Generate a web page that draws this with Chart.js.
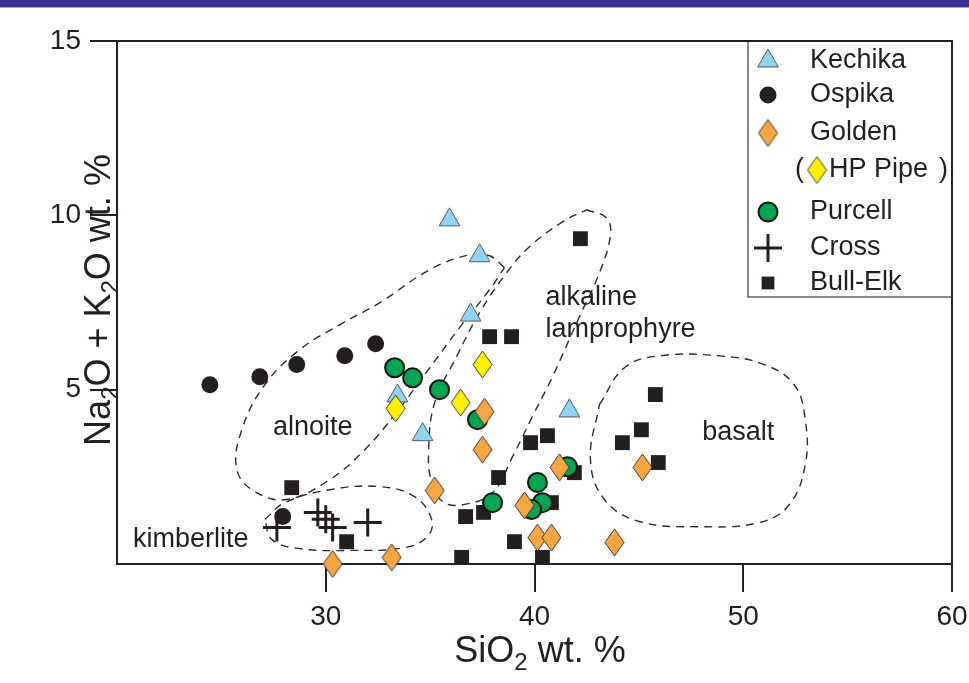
<!DOCTYPE html>
<html>
<head>
<meta charset="utf-8">
<script src="https://cdn.jsdelivr.net/npm/chart.js@4/dist/chart.umd.min.js"></script>
<style>
  html, body { margin: 0; padding: 0; background: #fff; }
  #wrap { position: relative; width: 969px; height: 683px; }
  #bar { position: absolute; left: 0; top: 0; width: 969px; height: 7px; background: #37328c; border-bottom: 1px solid #a4a3c4; }
  canvas { position: absolute; left: 0; top: 0; }
</style>
</head>
<body>
<div id="wrap">
  <canvas id="chart" width="969" height="683"></canvas>
  <div id="bar"></div>
</div>
<script>
// sample values (SiO2 wt.% vs Na2O+K2O wt.%)
const kechikaX = [35.93, 37.37, 36.94, 33.44, 34.64, 41.67];
const kechikaY = [9.87, 8.84, 7.14, 4.82, 3.71, 4.39];

const ospikaX = [24.45, 26.84, 28.61, 30.91, 32.39, 27.94];
const ospikaY = [5.14, 5.37, 5.72, 5.97, 6.32, 1.36];

const goldenX = [30.33, 33.16, 35.22, 37.61, 37.51, 39.52, 41.20, 40.14, 40.81, 43.83, 45.17];
const goldenY = [0.0, 0.19, 2.11, 4.37, 3.28, 1.68, 2.77, 0.76, 0.76, 0.62, 2.77];

const hpPipeX = [33.35, 36.46, 37.51];
const hpPipeY = [4.46, 4.63, 5.72];

const purcellX = [33.30, 34.16, 35.45, 37.27, 37.99, 40.14, 40.38, 39.86, 41.58];
const purcellY = [5.63, 5.34, 5.00, 4.14, 1.76, 2.34, 1.76, 1.56, 2.79];

const crossX = [27.66, 29.62, 30.00, 30.33, 32.01];
const crossY = [1.05, 1.48, 1.28, 1.05, 1.19];

const bullElkX = [28.37, 31.00, 36.70, 37.56, 36.51, 42.20, 37.85, 38.90, 39.81, 40.62, 38.28, 41.91, 40.81, 39.04, 40.38, 45.79, 45.12, 44.21, 45.93];
const bullElkY = [2.19, 0.64, 1.36, 1.48, 0.19, 9.33, 6.52, 6.52, 3.48, 3.68, 2.48, 2.62, 1.76, 0.64, 0.19, 4.86, 3.85, 3.48, 2.91];

// dashed field outlines
const alnoiteX = [38.56, 37.85, 36.89, 34.98, 32.58, 30.67, 28.76, 27.08, 25.98, 25.74, 26.60, 28.13, 30.19, 31.87, 33.30, 34.74, 36.41, 37.85, 38.56];
const alnoiteY = [8.50, 8.84, 8.87, 8.44, 7.49, 6.86, 6.15, 5.14, 3.85, 2.71, 2.08, 1.85, 2.42, 3.28, 4.28, 5.43, 6.78, 7.87, 8.50];

const lamproX = [42.49, 43.44, 43.64, 43.11, 42.15, 40.86, 39.90, 38.95, 37.99, 36.56, 35.60, 35.07, 34.93, 35.22, 36.27, 37.37, 38.66, 39.76, 41.34, 42.49];
const lamproY = [10.16, 9.93, 9.44, 8.35, 7.09, 5.37, 4.23, 3.08, 2.05, 1.70, 1.79, 2.34, 3.28, 4.63, 5.95, 7.21, 8.35, 9.10, 9.81, 10.16];

const basaltX = [43.11, 44.31, 45.98, 48.85, 51.00, 52.44, 52.97, 52.97, 52.20, 50.77, 47.89, 45.02, 43.35, 42.68, 43.11];
const basaltY = [4.57, 5.63, 5.97, 5.97, 5.72, 5.14, 4.14, 2.85, 1.70, 1.19, 1.07, 1.22, 1.85, 2.99, 4.57];

const kimberX = [27.08, 28.04, 30.19, 32.58, 34.26, 35.07, 34.88, 33.78, 31.15, 28.76, 27.42, 27.08];
const kimberY = [1.28, 1.76, 2.13, 2.22, 1.93, 1.28, 0.79, 0.47, 0.39, 0.44, 0.70, 1.28];

const fieldNames = ['alnoite', 'alkaline', 'lamprophyre', 'basalt', 'kimberlite'];
const fieldNameX = [29.38, 40.53, 40.53, 49.76, 20.77];
const fieldNameY = [3.91, 7.63, 6.72, 3.77, 0.70];

const xTicks = [30, 40, 50, 60];
const yTicks = [5, 10, 15];

const INK = '#231f20';
const FONT = '"Liberation Sans", Arial, sans-serif';

function pts(xs, ys) {
  return xs.map((x, i) => ({ x: x, y: ys[i] }));
}

// diamond marker, a bit taller than wide
function makeDiamond(fill) {
  const c = document.createElement('canvas');
  c.width = 21; c.height = 29;
  const g = c.getContext('2d');
  g.beginPath();
  g.moveTo(10.5, 1); g.lineTo(20, 14.5); g.lineTo(10.5, 28); g.lineTo(1, 14.5);
  g.closePath();
  g.fillStyle = fill; g.fill();
  g.strokeStyle = '#3a3a3a'; g.lineWidth = 1; g.stroke();
  return c;
}
const orangeDiamond = makeDiamond('#f7a543');
const yellowDiamond = makeDiamond('#fff200');

function field(xs, ys) {
  return {
    data: pts(xs, ys), showLine: true, pointRadius: 0, borderColor: '#2b2b2b',
    borderWidth: 1.4, borderDash: [8, 6], tension: 0.4, fill: false, order: 20
  };
}

const kechika = { label: 'Kechika', data: pts(kechikaX, kechikaY), pointStyle: 'triangle', pointRadius: 12,
  backgroundColor: '#8fd4f4', borderColor: '#5a5a5a', borderWidth: 1, order: 5 };
const ospika = { label: 'Ospika', data: pts(ospikaX, ospikaY), pointStyle: 'circle', pointRadius: 8.5,
  backgroundColor: INK, borderColor: INK, borderWidth: 0, order: 4 };
const golden = { label: 'Golden', data: pts(goldenX, goldenY), pointStyle: orangeDiamond, pointRadius: 12, order: 1 };
const hpPipe = { label: 'HP Pipe', data: pts(hpPipeX, hpPipeY), pointStyle: yellowDiamond, pointRadius: 12, order: 2 };
const purcell = { label: 'Purcell', data: pts(purcellX, purcellY), pointStyle: 'circle', pointRadius: 9.5,
  backgroundColor: '#00a651', borderColor: '#151515', borderWidth: 2, order: 6 };
const cross = { label: 'Cross', data: pts(crossX, crossY), pointStyle: 'cross', pointRadius: 14,
  backgroundColor: INK, borderColor: INK, borderWidth: 3, order: 3 };
const bullElk = { label: 'Bull-Elk', data: pts(bullElkX, bullElkY), pointStyle: 'rect', pointRadius: 10.5,
  backgroundColor: INK, borderColor: INK, borderWidth: 0, order: 7 };

function drawMarker(ctx, ds, x, y) {
  const s = ds.pointStyle, r = ds.pointRadius;
  ctx.save();
  ctx.fillStyle = ds.backgroundColor || INK;
  ctx.strokeStyle = ds.borderColor || INK;
  ctx.lineWidth = ds.borderWidth || 0;
  if (typeof s !== 'string') {
    ctx.drawImage(s, x - s.width / 2, y - s.height / 2);
  } else if (s === 'triangle') {
    ctx.beginPath();
    ctx.moveTo(x, y - r);
    ctx.lineTo(x + r * 0.866, y + r / 2);
    ctx.lineTo(x - r * 0.866, y + r / 2);
    ctx.closePath();
    ctx.fill(); if (ds.borderWidth) ctx.stroke();
  } else if (s === 'circle') {
    ctx.beginPath(); ctx.arc(x, y, r, 0, Math.PI * 2);
    ctx.fill(); if (ds.borderWidth) ctx.stroke();
  } else if (s === 'cross') {
    ctx.beginPath();
    ctx.moveTo(x - r, y); ctx.lineTo(x + r, y);
    ctx.moveTo(x, y - r); ctx.lineTo(x, y + r);
    ctx.stroke();
  } else if (s === 'rect') {
    const h = r * Math.SQRT1_2;
    ctx.fillRect(x - h, y - h, 2 * h, 2 * h);
  }
  ctx.restore();
}

// text with subscript pieces, parts like [['Si', false], ['2', true]]
function partsWidth(ctx, parts) {
  let w = 0;
  parts.forEach(p => {
    ctx.font = (p[1] ? '24px ' : '36px ') + FONT;
    w += ctx.measureText(p[0]).width;
  });
  return w;
}
function drawParts(ctx, parts, x, y) {
  let cx = x;
  parts.forEach(p => {
    ctx.font = (p[1] ? '24px ' : '36px ') + FONT;
    ctx.fillText(p[0], cx, p[1] ? y + 8 : y);
    cx += ctx.measureText(p[0]).width;
  });
}

const decorations = {
  id: 'decorations',
  beforeDatasetsDraw(chart) {
    const { ctx, chartArea: a } = chart;
    ctx.save();
    ctx.strokeStyle = INK;
    ctx.lineWidth = 2;
    ctx.beginPath();
    ctx.moveTo(a.left, a.top);
    ctx.lineTo(a.right, a.top);
    ctx.lineTo(a.right, a.bottom);
    ctx.stroke();

    // field names
    const xs = chart.scales.x, ys = chart.scales.y;
    ctx.fillStyle = INK;
    ctx.font = '27px ' + FONT;
    ctx.textBaseline = 'middle';
    fieldNames.forEach((name, i) => {
      ctx.textAlign = (name === 'alnoite' || name === 'basalt') ? 'center' : 'left';
      ctx.fillText(name, xs.getPixelForValue(fieldNameX[i]), ys.getPixelForValue(fieldNameY[i]));
    });
    ctx.restore();
  },
  afterDraw(chart) {
    const { ctx, chartArea: a } = chart;
    ctx.save();
    ctx.fillStyle = INK;
    ctx.textBaseline = 'alphabetic';
    ctx.textAlign = 'left';

    // x title
    const xt = [['SiO', false], ['2', true], [' wt. %', false]];
    const xw = partsWidth(ctx, xt);
    drawParts(ctx, xt, 540 - xw / 2, 662);

    // y title, rotated
    const yt = [['Na', false], ['2', true], ['O + K', false], ['2', true], ['O wt. %', false]];
    const yw = partsWidth(ctx, yt);
    ctx.save();
    ctx.translate(110, 300);
    ctx.rotate(-Math.PI / 2);
    drawParts(ctx, yt, -yw / 2, 0);
    ctx.restore();

    // legend box
    const lx = 748, lh = 256;
    ctx.fillStyle = '#fff';
    ctx.fillRect(lx, a.top, a.right - lx, lh);
    ctx.strokeStyle = '#3a3a3a';
    ctx.lineWidth = 1.2;
    ctx.strokeRect(lx, a.top, a.right - lx, lh);
    ctx.strokeStyle = INK;
    ctx.lineWidth = 2;
    ctx.beginPath();
    ctx.moveTo(a.left, a.top); ctx.lineTo(a.right, a.top);
    ctx.lineTo(a.right, a.top + lh);
    ctx.stroke();

    const rows = [[kechika, 61], [ospika, 95], [golden, 133], [purcell, 212], [cross, 248], [bullElk, 283]];
    ctx.font = '27px ' + FONT;
    ctx.textBaseline = 'middle';
    rows.forEach(([ds, y]) => {
      const leg = Object.assign({}, ds);
      if (ds === bullElk) leg.pointRadius = 9;
      drawMarker(ctx, leg, 768, y);
      ctx.fillStyle = INK;
      ctx.fillText(ds.label, 810, y);
    });
    // HP Pipe sub-entry
    ctx.fillStyle = INK;
    ctx.fillText('(', 795, 170);
    drawMarker(ctx, hpPipe, 817, 170);
    ctx.fillStyle = INK;
    ctx.fillText('HP Pipe', 829, 170);
    ctx.textAlign = 'right';
    ctx.fillText(')', 948, 170);
    ctx.restore();
  }
};

const ctx = document.getElementById('chart').getContext('2d');
const chart = new Chart(ctx, {
  type: 'scatter',
  data: {
    datasets: [
      golden, hpPipe, cross, ospika, kechika, purcell, bullElk,
      field(alnoiteX, alnoiteY), field(lamproX, lamproY), field(basaltX, basaltY), field(kimberX, kimberY)
    ]
  },
  options: {
    responsive: false,
    animation: false,
    clip: false,
    layout: { padding: { top: 41, right: 16, left: 0, bottom: 0 } },
    plugins: { legend: { display: false }, tooltip: { enabled: false } },
    scales: {
      x: {
        type: 'linear', min: 20, max: 60,
        afterFit: s => { s.height = 119; s.paddingLeft = 0; s.paddingRight = 0; },
        afterBuildTicks: s => { s.ticks = xTicks.map(v => ({ value: v })); },
        ticks: { color: INK, font: { size: 28, family: FONT }, padding: 8, maxRotation: 0 },
        grid: { drawOnChartArea: false, drawTicks: true, tickLength: 28, color: INK, lineWidth: 2 },
        border: { display: true, color: INK, width: 2 }
      },
      y: {
        type: 'linear', min: 0, max: 15,
        afterFit: s => { s.width = 117; s.paddingTop = 0; s.paddingBottom = 0; },
        afterBuildTicks: s => { s.ticks = yTicks.map(v => ({ value: v })); },
        ticks: { color: INK, font: { size: 28, family: FONT }, padding: 9 },
        grid: { drawOnChartArea: false, drawTicks: true, tickLength: 27, color: INK, lineWidth: 2 },
        border: { display: true, color: INK, width: 2 }
      }
    }
  },
  plugins: [decorations]
});
</script>
</body>
</html>
